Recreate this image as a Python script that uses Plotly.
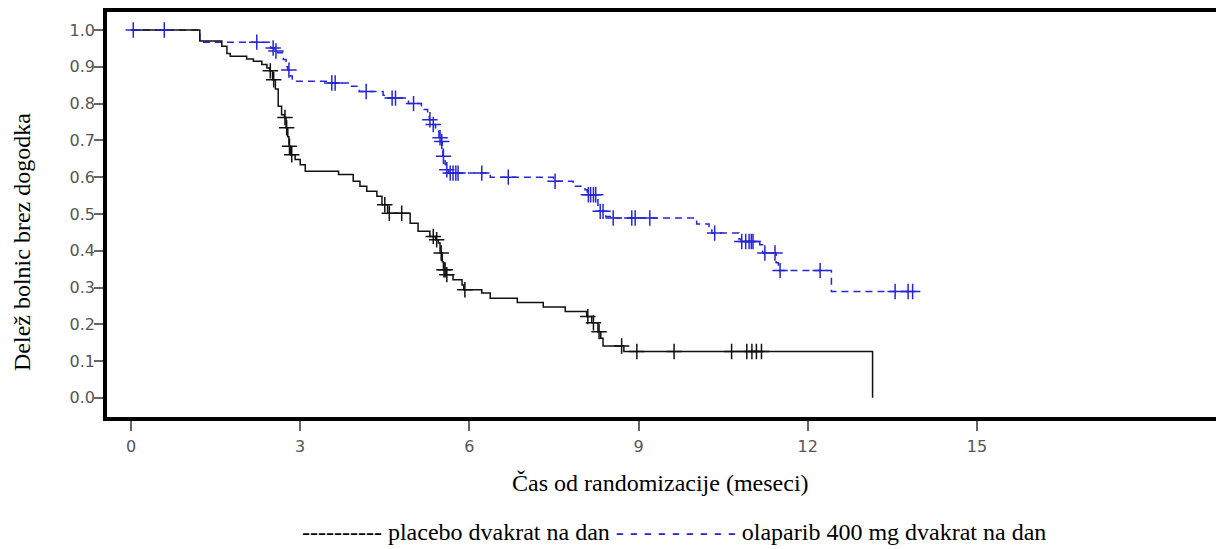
import numpy as np
import plotly.graph_objects as go

# Kaplan-Meier estimates: event times (months) and survival after each step
placebo_t = [0, 1.22, 1.61, 1.70, 1.76, 2.05, 2.17, 2.32, 2.41, 2.46, 2.51, 2.56, 2.61, 2.67, 2.72,
             2.75, 2.78, 2.80, 2.83, 2.91, 3.00, 3.09, 3.68, 3.94, 4.06, 4.18, 4.36, 4.45, 4.55, 4.95,
             5.09, 5.30, 5.40, 5.45, 5.48, 5.52, 5.54, 5.59, 5.71, 5.87, 5.90, 6.22, 6.37, 6.85, 7.31,
             7.70, 8.08, 8.17, 8.28, 8.33, 8.37, 8.74, 13.15]
placebo_s = [1.0, 0.970, 0.956, 0.936, 0.929, 0.921, 0.915, 0.906, 0.897, 0.889, 0.865, 0.840, 0.793, 0.770, 0.762,
             0.734, 0.710, 0.684, 0.661, 0.648, 0.634, 0.616, 0.607, 0.589, 0.575, 0.562, 0.548, 0.525, 0.502, 0.475,
             0.453, 0.439, 0.430, 0.421, 0.394, 0.370, 0.348, 0.335, 0.321, 0.307, 0.294, 0.285, 0.271, 0.259, 0.247,
             0.235, 0.221, 0.204, 0.180, 0.162, 0.141, 0.126, 0.0]
placebo_censor = [2.47, 2.53, 2.73, 2.76, 2.81, 2.85, 4.50, 4.58, 4.80, 5.36, 5.42, 5.50, 5.55, 5.57, 5.60,
                  5.92, 8.10, 8.20, 8.30, 8.70, 8.97, 9.63, 10.65, 10.92, 11.01, 11.09, 11.18]

olaparib_t = [0, 1.22, 2.48, 2.54, 2.60, 2.70, 2.75, 2.78, 2.82, 2.86, 3.50, 3.88, 4.05, 4.47, 4.55,
              4.92, 5.15, 5.26, 5.29, 5.34, 5.40, 5.46, 5.50, 5.52, 5.53, 5.57, 5.59, 5.63, 6.37, 7.49,
              7.84, 8.05, 8.09, 8.28, 8.30, 8.42, 8.50, 10.03, 10.25, 10.30, 10.78, 10.82, 11.15, 11.20, 11.44,
              11.48, 12.42]
olaparib_s = [1.0, 0.967, 0.951, 0.943, 0.938, 0.920, 0.900, 0.891, 0.875, 0.861, 0.856, 0.847, 0.833, 0.823, 0.815,
              0.800, 0.784, 0.765, 0.756, 0.743, 0.725, 0.707, 0.697, 0.680, 0.657, 0.635, 0.620, 0.611, 0.600, 0.589,
              0.575, 0.566, 0.552, 0.516, 0.507, 0.493, 0.489, 0.473, 0.466, 0.448, 0.432, 0.425, 0.416, 0.394, 0.367,
              0.346, 0.289]
olaparib_censor = [0.04, 0.59, 2.23, 2.52, 2.57, 2.80, 3.56, 3.62, 4.17, 4.63, 4.69, 5.01, 5.30, 5.36, 5.48,
                   5.51, 5.54, 5.60, 5.66, 5.71, 5.76, 5.80, 6.22, 6.69, 7.52, 8.11, 8.15, 8.20, 8.24, 8.32,
                   8.37, 8.55, 8.88, 8.94, 9.20, 10.35, 10.83, 10.90, 10.96, 11.00, 11.03, 11.24, 11.42, 11.51, 12.22,
                   13.55, 13.78, 13.86]
olaparib_last_followup = 13.86

x_ticks = [0, 3, 6, 9, 12, 15]
y_ticks = [0.0, 0.1, 0.2, 0.3, 0.4, 0.5, 0.6, 0.7, 0.8, 0.9, 1.0]

x_title = "Čas od randomizacije (meseci)"
y_title = "Delež bolnic brez dogodka"
placebo_label = "placebo dvakrat na dan"
olaparib_label = "olaparib 400 mg dvakrat na dan"

BLACK = "#111111"
BLUE = "#2626d6"


def km_at(times, surv, t):
    idx = np.searchsorted(np.asarray(times), np.asarray(t), side="right") - 1
    return np.asarray(surv)[idx]


fig = go.Figure()

# olaparib step curve (dashed blue)
fig.add_trace(go.Scatter(
    x=olaparib_t + [olaparib_last_followup], y=olaparib_s + [olaparib_s[-1]],
    mode="lines", line=dict(shape="hv", color=BLUE, width=1.5, dash="7px,5px"),
    hoverinfo="skip", showlegend=False))

# placebo step curve (solid black)
fig.add_trace(go.Scatter(
    x=placebo_t, y=placebo_s, mode="lines",
    line=dict(shape="hv", color=BLACK, width=1.5),
    hoverinfo="skip", showlegend=False))

# censoring marks
fig.add_trace(go.Scatter(
    x=olaparib_censor, y=km_at(olaparib_t, olaparib_s, olaparib_censor), mode="markers",
    marker=dict(symbol="cross-thin", size=11, line=dict(color=BLUE, width=1.5)),
    hoverinfo="skip", showlegend=False))
fig.add_trace(go.Scatter(
    x=placebo_censor, y=km_at(placebo_t, placebo_s, placebo_censor), mode="markers",
    marker=dict(symbol="cross-thin", size=11, line=dict(color=BLACK, width=1.5)),
    hoverinfo="skip", showlegend=False))

W, H = 1216, 549
ML, MT, MB = 107, 12, 132
plot_w = W - ML
plot_h = H - MT - MB

fig.update_layout(
    width=W, height=H,
    margin=dict(l=ML, r=0, t=MT, b=MB),
    paper_bgcolor="white", plot_bgcolor="white",
    showlegend=False,
)

tick_font = dict(family="DejaVu Sans", size=16, color="#555555")

fig.update_xaxes(
    range=[-0.426, 19.24], tickvals=x_ticks, ticktext=[str(v) for v in x_ticks],
    showgrid=False, zeroline=False,
    showline=True, linecolor="black", linewidth=3.5, mirror=True,
    ticks="outside", ticklen=10, tickwidth=1.5, tickcolor="#666666",
    tickfont=tick_font, ticklabelstandoff=2,
)
fig.update_yaxes(
    range=[-0.052, 1.049], tickvals=y_ticks, ticktext=[f"{v:.1f}" for v in y_ticks],
    showgrid=False, zeroline=False,
    showline=True, linecolor="black", linewidth=3.5, mirror=False,
    ticks="outside", ticklen=9, tickwidth=1.5, tickcolor="#666666",
    tickfont=tick_font, ticklabelstandoff=-4,
)

serif = "Liberation Serif"
text_size = 24

fig.add_annotation(
    text=y_title, textangle=-90, showarrow=False,
    xref="paper", yref="paper",
    x=(22 - ML) / plot_w, y=(H - MB - 242) / plot_h,
    xanchor="center", yanchor="middle",
    font=dict(family=serif, size=text_size, color="black"))

fig.add_annotation(
    text=x_title, showarrow=False,
    xref="paper", yref="paper",
    x=(660 - ML) / plot_w, y=(H - MB - 483) / plot_h,
    xanchor="center", yanchor="middle",
    font=dict(family=serif, size=text_size, color="black"))

legend_text = ("---------- " + placebo_label + " "
               + f"<span style='color:{BLUE}'>- - - - - - - - -</span> " + olaparib_label)
fig.add_annotation(
    text=legend_text, showarrow=False,
    xref="paper", yref="paper",
    x=(300 - ML) / plot_w, y=(H - MB - 532) / plot_h,
    xanchor="left", yanchor="middle",
    font=dict(family=serif, size=text_size, color="black"))

fig.write_html("out.html")
